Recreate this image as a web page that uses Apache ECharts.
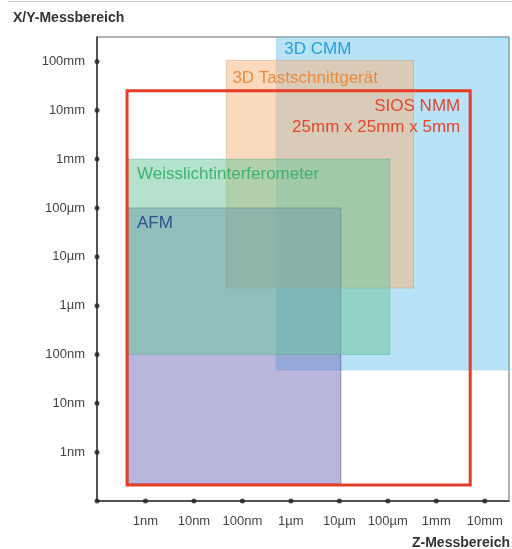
<!DOCTYPE html>
<html><head><meta charset="utf-8">
<script src="https://cdn.jsdelivr.net/npm/echarts@6/dist/echarts.min.js"></script>
<style>html,body{margin:0;padding:0;background:#fff}#c{width:512px;height:549px}</style>
</head><body><div id="c"></div>
<script>
// Axis values are log10(metres)
const xTickValues = [-9, -8, -7, -6, -5, -4, -3, -2];
const xTickLabels = ['1nm', '10nm', '100nm', '1µm', '10µm', '100µm', '1mm', '10mm'];
const yTickValues = [-9, -8, -7, -6, -5, -4, -3, -2, -1];
const yTickLabels = ['1nm', '10nm', '100nm', '1µm', '10µm', '100µm', '1mm', '10mm', '100mm'];

// Measuring ranges (Z range = x, X/Y range = y), log10(m)
const instrumentNames = ['3D CMM', '3D Tastschnittgerät', 'AFM', 'Weisslichtinterferometer'];
const zMin  = [-6.30, -7.33, -9.36, -9.36];
const zMax  = [-1.00, -3.47, -4.97, -3.96];
const xyMin = [-7.32, -5.64, -9.65, -7.00];
const xyMax = [-0.30, -0.98, -4.00, -3.00];

const siosName = ['SIOS NMM', '25mm x 25mm x 5mm'];
const siosZ  = [-9.38, -2.30];
const siosXY = [-9.67, -1.60];

const FONT = '"Liberation Sans", Arial, Helvetica, sans-serif';
const fills = {
  '3D CMM': 'rgba(113,197,235,0.5)',
  '3D Tastschnittgerät': 'rgba(247,179,123,0.5)',
  'AFM': 'rgba(113,109,185,0.5)',
  'Weisslichtinterferometer': 'rgba(105,197,153,0.5)'
};
const borders = {
  '3D CMM': 'rgba(90,160,200,0.25)',
  '3D Tastschnittgerät': 'rgba(190,140,90,0.35)',
  'AFM': 'rgba(60,60,90,0.45)',
  'Weisslichtinterferometer': 'rgba(80,160,120,0.35)'
};
const textColors = {
  '3D CMM': '#229fdc',
  '3D Tastschnittgerät': '#ec8a3c',
  'AFM': '#2f4f8f',
  'Weisslichtinterferometer': '#3db26e'
};
const labelOffset = {
  '3D CMM': [8, 12],
  '3D Tastschnittgerät': [6, 18],
  'AFM': [9, 15],
  'Weisslichtinterferometer': [9, 15]
};

const rectData = instrumentNames.map((n, i) => [zMin[i], zMax[i], xyMin[i], xyMax[i], n]);

function rectShape(params, api) {
  const p0 = api.coord([api.value(0), api.value(3)]);
  const p1 = api.coord([api.value(1), api.value(2)]);
  const cs = params.coordSys;
  return echarts.graphic.clipRectByRect(
    { x: p0[0], y: p0[1], width: p1[0] - p0[0], height: p1[1] - p0[1] },
    { x: cs.x, y: cs.y, width: cs.width, height: cs.height });
}

const tickDots = [[-10, -10]]
  .concat(xTickValues.map(v => [v, -10]))
  .concat(yTickValues.map(v => [-10, v]));

const chart = echarts.init(document.getElementById('c'));
chart.setOption({
  animation: false,
  backgroundColor: '#fff',
  grid: { left: 97, right: 2, top: 37, bottom: 48, show: true, borderColor: '#666', borderWidth: 1, backgroundColor: 'transparent' },
  xAxis: {
    type: 'value', min: -10, max: -1.5, interval: 1,
    axisLine: { show: true, lineStyle: { color: '#333', width: 1.5 } },
    axisTick: { show: false }, splitLine: { show: false },
    axisLabel: {
      color: '#444', fontSize: 13, fontFamily: FONT, margin: 14,
      formatter: v => { const i = xTickValues.indexOf(Math.round(v * 100) / 100); return i >= 0 ? xTickLabels[i] : ''; }
    }
  },
  yAxis: {
    type: 'value', min: -10, max: -0.5, interval: 1,
    axisLine: { show: true, lineStyle: { color: '#333', width: 1.5 } },
    axisTick: { show: false }, splitLine: { show: false },
    axisLabel: {
      color: '#444', fontSize: 13, fontFamily: FONT, margin: 12,
      formatter: v => { const i = yTickValues.indexOf(Math.round(v * 100) / 100); return i >= 0 ? yTickLabels[i] : ''; }
    }
  },
  graphic: [
    { type: 'line', shape: { x1: 8, y1: 1.5, x2: 512, y2: 1.5 }, style: { stroke: '#ccc', lineWidth: 1 } },
    { type: 'text', left: 13, top: 11, style: { text: 'X/Y-Messbereich', font: 'bold 14px ' + FONT, fill: '#333' } },
    { type: 'text', right: 2, top: 536, style: { text: 'Z-Messbereich', font: 'bold 14px ' + FONT, fill: '#333' } }
  ],
  series: [
    {
      type: 'custom', data: rectData, z: 2,
      encode: { x: [0, 1], y: [2, 3] },
      renderItem: (params, api) => {
        const s = rectShape(params, api);
        const n = instrumentNames[params.dataIndex];
        return { type: 'rect', shape: s, style: { fill: fills[n], stroke: borders[n], lineWidth: 1 } };
      }
    },
    {
      type: 'custom', data: rectData, z: 4,
      encode: { x: [0, 1], y: [2, 3] },
      renderItem: (params, api) => {
        const s = rectShape(params, api);
        const n = instrumentNames[params.dataIndex];
        const o = labelOffset[n];
        return { type: 'text', style: { text: n, x: s.x + o[0], y: s.y + o[1], fill: textColors[n], font: '17px ' + FONT, align: 'left', verticalAlign: 'middle' } };
      }
    },
    {
      type: 'custom', data: [[siosZ[0], siosZ[1], siosXY[0], siosXY[1]]], z: 5,
      encode: { x: [0, 1], y: [2, 3] },
      renderItem: (params, api) => {
        const s = rectShape(params, api);
        return {
          type: 'group', children: [
            { type: 'rect', shape: s, style: { fill: 'none', stroke: '#e63c28', lineWidth: 3 } },
            { type: 'text', style: { text: siosName[0], x: s.x + s.width - 10, y: s.y + 16, fill: '#e4462c', font: '17px ' + FONT, align: 'right', verticalAlign: 'middle' } },
            { type: 'text', style: { text: siosName[1], x: s.x + s.width - 10, y: s.y + 37, fill: '#e4462c', font: '17px ' + FONT, align: 'right', verticalAlign: 'middle' } }
          ]
        };
      }
    },
    {
      type: 'scatter', data: tickDots, symbol: 'circle', symbolSize: 5, z: 10, clip: false, silent: true,
      itemStyle: { color: '#222' }
    }
  ]
});
</script>
</body></html>
